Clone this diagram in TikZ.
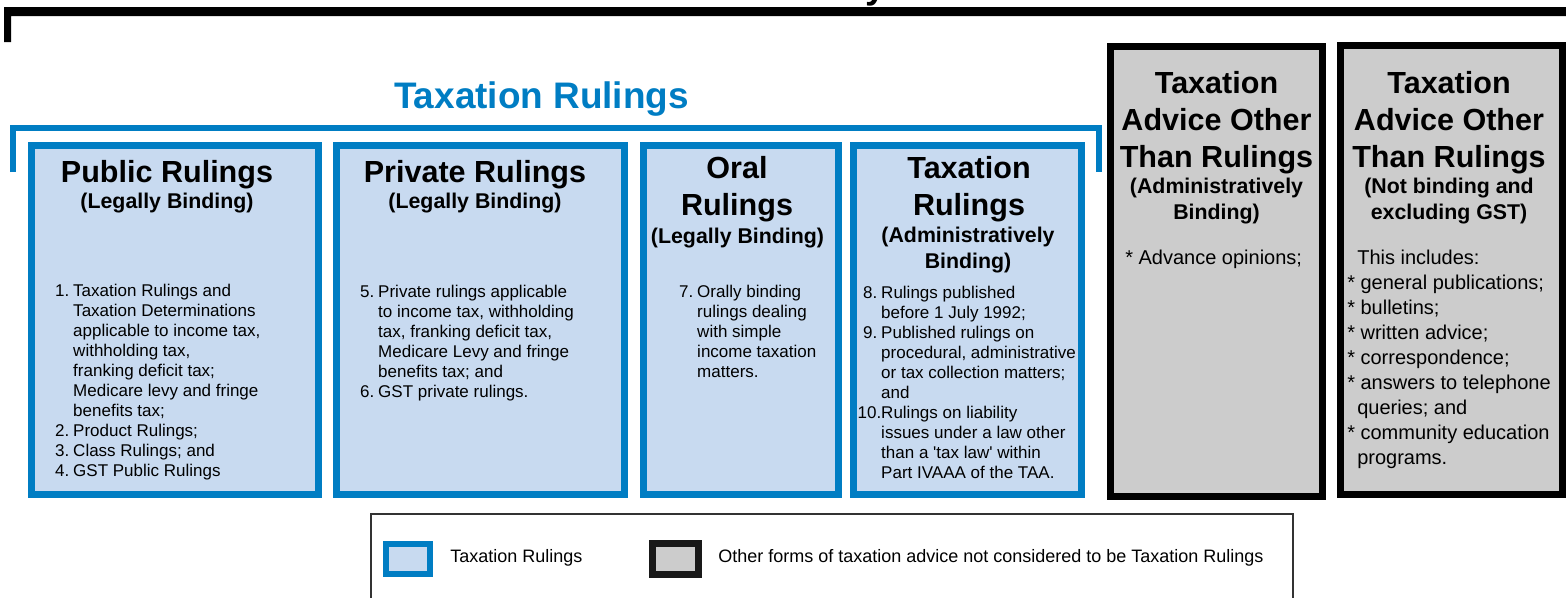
\documentclass[tikz,border=0pt]{standalone}
\usepackage{fontspec}
\setmainfont{Liberation Sans}
\usepackage{xcolor}
\usepackage{tikz}
\usetikzlibrary{positioning}

\definecolor{rulblue}{RGB}{0,125,195}
\definecolor{rulfill}{RGB}{200,218,240}
\definecolor{advfill}{RGB}{204,204,204}

\newcommand{\numlab}[1]{\makebox[17pt][r]{#1\hspace{3pt}}}

\tikzset{
  rulebox/.style={draw=rulblue, fill=rulfill, line width=5.25pt},
  advbox/.style={draw=black, fill=advfill, line width=5.25pt},
  boxtitle/.style={font=\bfseries\fontsize{22.9}{27.75}\selectfont, align=center, inner sep=0pt, anchor=base},
  boxsub/.style={font=\bfseries\fontsize{16}{19.5}\selectfont, align=center, inner sep=0pt, anchor=base},
  boxbody/.style={font=\fontsize{12.75}{15}\selectfont, align=left, inner sep=0pt, anchor=base west},
  advbody/.style={font=\fontsize{15}{18.75}\selectfont, align=left, inner sep=0pt, anchor=base west},
  legtext/.style={font=\fontsize{13.5}{16}\selectfont, inner sep=0pt, anchor=base west}
}

\begin{document}
\begin{tikzpicture}[x=0.75pt, y=-0.75pt]
    \useasboundingbox (0,0) rectangle (1566,597);
    % Top frame
    \fill (4,42) -- (4,7) -- (1566,7) -- (1566,16) -- (11,16) -- (11,42) -- cycle;
    \node [font=\bfseries\fontsize{27.7}{33}\selectfont, inner sep=0pt, anchor=base] (topy) at (876,-2) {y};
    % Taxation Rulings bracket
    \draw [rulblue, line width=4.5pt] (13,172) -- (13,128) -- (1099,128) -- (1099,172);
    \node [font=\bfseries\fontsize{27.7}{33}\selectfont, text=rulblue, inner sep=0pt, anchor=base] (title) at (541.5,108) {Taxation Rulings};

    % Public rulings (multi-line nodes sit on their last baseline)
    \draw [rulebox] (31.5,145.5) rectangle (318.5,494.5);
    \node [boxtitle] (pubtitle) at (167,182) {Public Rulings};
    \node [boxsub] (pubsub) at (167,208) {(Legally Binding)};
    \node [boxbody] (pubtext) at (50.3,476) {\numlab{1.}Taxation Rulings and\\
      \numlab{}Taxation Determinations\\
      \numlab{}applicable to income tax,\\
      \numlab{}withholding tax,\\
      \numlab{}franking deficit tax;\\
      \numlab{}Medicare levy and fringe\\
      \numlab{}benefits tax;\\
      \numlab{2.}Product Rulings;\\
      \numlab{3.}Class Rulings; and\\
      \numlab{4.}GST Public Rulings};

    % Private rulings
    \draw [rulebox] (336.5,145.5) rectangle (624.5,494.5);
    \node [boxtitle] (privtitle) at (475,182) {Private Rulings};
    \node [boxsub] (privsub) at (475,208) {(Legally Binding)};
    \node [boxbody] (privtext) at (355.3,397) {\numlab{5.}Private rulings applicable\\
      \numlab{}to income tax, withholding\\
      \numlab{}tax, franking deficit tax,\\
      \numlab{}Medicare Levy and fringe\\
      \numlab{}benefits tax; and\\
      \numlab{6.}GST private rulings.};

    % Oral rulings
    \draw [rulebox] (643.5,145.5) rectangle (838.5,494.5);
    \node [boxtitle] (oraltitle) at (737,215) {Oral\\Rulings};
    \node [boxsub] (oralsub) at (737.5,243) {(Legally Binding)};
    \node [boxbody] (oraltext) at (674.3,377) {\numlab{7.}Orally binding\\
      \numlab{}rulings dealing\\
      \numlab{}with simple\\
      \numlab{}income taxation\\
      \numlab{}matters.};

    % Administratively binding rulings
    \draw [rulebox] (853.5,145.5) rectangle (1081.5,494.5);
    \node [boxtitle] (admtitle) at (969,215) {Taxation\\Rulings};
    \node [boxsub] (admsub) at (968,268) {(Administratively\\Binding)};
    \node [boxbody] (admtext) at (858.3,478) {\numlab{8.}Rulings published\\
      \numlab{}before 1 July 1992;\\
      \numlab{9.}Published rulings on\\
      \numlab{}procedural, administrative\\
      \numlab{}or tax collection matters;\\
      \numlab{}and\\
      \makebox[17pt][r]{10.}Rulings on liability\\
      \numlab{}issues under a law other\\
      \numlab{}than a \textquotesingle tax law\textquotesingle{} within\\
      \numlab{}Part IVAAA of the TAA.};

    % Advice other than rulings
    \draw [advbox] (1110.5,46.5) rectangle (1322.5,496.5);
    \node [boxtitle] (adv1title) at (1216.5,167) {Taxation\\Advice Other\\Than Rulings};
    \node [boxsub] (adv1sub) at (1216.5,219) {(Administratively\\Binding)};
    \node [advbody] (adv1text) at (1125,264) {* Advance opinions;};

    \draw [advbox] (1340.5,45.5) rectangle (1562.5,494.5);
    \node [boxtitle] (adv2title) at (1449,167) {Taxation\\Advice Other\\Than Rulings};
    \node [boxsub] (adv2sub) at (1449,219) {(Not binding and\\excluding GST)};
    \node [advbody] (adv2text) at (1347,464) {\hspace*{7.5pt}This includes:\\
      * general publications;\\
      * bulletins;\\
      * written advice;\\
      * correspondence;\\
      * answers to telephone\\
      \hspace*{7.5pt}queries; and\\
      * community education\\
      \hspace*{7.5pt}programs.};

    % Legend
    \draw [draw=black!80, line width=1.1pt] (371,514) rectangle (1293,610);
    \draw [draw=rulblue, fill=rulfill, line width=4.5pt] (386,544) rectangle (430,574);
    \node [legtext] (legrul) at (450,562) {Taxation Rulings};
    \draw [draw=black!90, fill=advfill, line width=5.25pt] (652.5,543.5) rectangle (698.5,574.5);
    \node [legtext] (legadv) at (718,562) {Other forms of taxation advice not considered to be Taxation Rulings};
\end{tikzpicture}
\end{document}
